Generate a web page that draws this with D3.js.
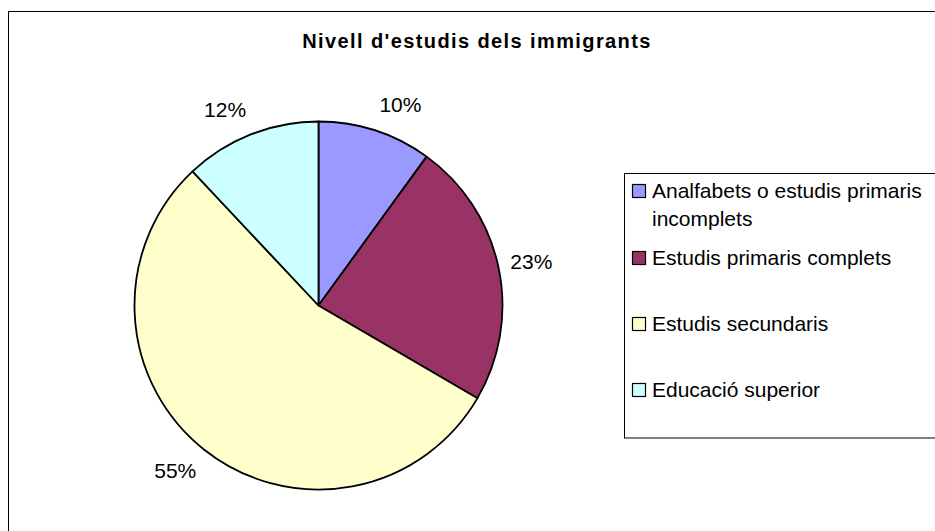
<!DOCTYPE html>
<html><head><meta charset="utf-8">
<script src="https://cdn.jsdelivr.net/npm/d3@7"></script>
<style>body{margin:0;background:#fff}svg{display:block}text{font-family:"Liberation Sans",Arial,sans-serif;fill:#000}</style>
</head><body><svg id="c" width="935" height="531"></svg>
<script>
const title = "Nivell d'estudis dels immigrants";
const categories = ["Analfabets o estudis primaris incomplets","Estudis primaris complets","Estudis secundaris","Educació superior"];
const legendLines = [["Analfabets o estudis primaris","incomplets"],["Estudis primaris complets"],["Estudis secundaris"],["Educació superior"]];
const values = [10.0, 23.4, 54.6, 12.0];
const colors = ["#9999FF","#993366","#FFFFCC","#CCFFFF"];

const svg = d3.select("#c");
svg.append("rect").attr("x",0).attr("y",0).attr("width",935).attr("height",531).attr("fill","#fff");
svg.append("rect").attr("x",8.5).attr("y",11.5).attr("width",1000).attr("height",600)
  .attr("fill","none").attr("stroke","#000").attr("stroke-width",1);

svg.append("text").attr("x",477).attr("y",48).attr("text-anchor","middle")
  .style("font-weight","bold").style("font-size","20px").style("letter-spacing","1.4px").text(title);

const cx = 318.5, cy = 305.5, r = 184;
const total = d3.sum(values);
const pie = d3.pie().sort(null).value(d=>d)(values);
const arc = d3.arc().innerRadius(0).outerRadius(r);
const g = svg.append("g").attr("transform",`translate(${cx},${cy})`);
g.selectAll("path").data(pie).join("path").attr("d",arc)
  .attr("fill",(d,i)=>colors[i]).attr("stroke","#000").attr("stroke-width",1.8).attr("stroke-linejoin","round");

const fmt = d3.format(".0%");
const R = 217, Ry = 211, w = 43;
g.selectAll("text.lbl").data(pie).join("text").attr("class","lbl")
  .attr("text-anchor","middle").attr("dy","0.35em").style("font-size","21px")
  .attr("x",d=>{const a=(d.startAngle+d.endAngle)/2; const ux=Math.sin(a); return R*ux + Math.sign(ux)*(w/2)*(1-Math.abs(ux));})
  .attr("y",d=>{const a=(d.startAngle+d.endAngle)/2; return -Ry*Math.cos(a);})
  .text(d=>fmt(d.value/total));

// legend
svg.append("rect").attr("x",624.5).attr("y",173.5).attr("width",400).attr("height",264.5)
  .attr("fill","#fff").attr("stroke","#000").attr("stroke-width",1);
const baselines = [198, 265, 331, 397];
const lg = svg.append("g");
legendLines.forEach((lines,i)=>{
  lg.append("rect").attr("x",632.5).attr("y",baselines[i]-13.5).attr("width",13).attr("height",13)
    .attr("fill",colors[i]).attr("stroke","#000").attr("stroke-width",1.2);
  lines.forEach((t,j)=>{
    lg.append("text").attr("x",652).attr("y",baselines[i]+j*28).style("font-size","21px").text(t);
  });
});
</script></body></html>
